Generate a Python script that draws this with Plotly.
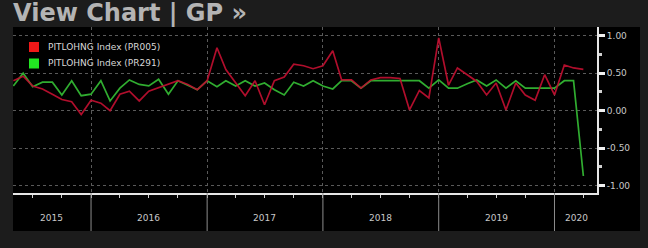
import plotly.graph_objects as go
import pandas as pd

# ---- data (monthly, May 2015 .. Apr 2020) ----
months = pd.date_range("2015-05-01", "2020-04-01", freq="MS").strftime("%Y-%m-%d").tolist()

pr005 = [0.40, 0.46, 0.33, 0.29, 0.22, 0.15, 0.12, -0.05, 0.14, 0.10,
         0.00, 0.22, 0.26, 0.13, 0.26, 0.31, 0.36, 0.40, 0.35, 0.28,
         0.40, 0.84, 0.55, 0.38, 0.20, 0.40, 0.08, 0.40, 0.45, 0.62,
         0.60, 0.56, 0.60, 0.80, 0.41, 0.41, 0.30, 0.41, 0.44, 0.44,
         0.43, 0.01, 0.27, 0.17, 0.97, 0.34, 0.57, 0.48, 0.39, 0.21,
         0.37, 0.01, 0.37, 0.21, 0.14, 0.48, 0.21, 0.61, 0.57, 0.55]

pr291 = [0.33, 0.50, 0.32, 0.38, 0.38, 0.21, 0.40, 0.20, 0.22, 0.40,
         0.13, 0.30, 0.41, 0.35, 0.33, 0.42, 0.22, 0.40, 0.34, 0.28,
         0.40, 0.32, 0.40, 0.33, 0.40, 0.33, 0.37, 0.28, 0.21, 0.38,
         0.33, 0.40, 0.33, 0.29, 0.40, 0.40, 0.30, 0.40, 0.40, 0.40,
         0.40, 0.40, 0.40, 0.30, 0.41, 0.30, 0.30, 0.36, 0.41, 0.33,
         0.41, 0.30, 0.40, 0.30, 0.30, 0.30, 0.30, 0.40, 0.40, -0.87]

series_names = ["PITLOHNG Index (PR005)", "PITLOHNG Index (PR291)"]
line_colors = ["#bf1030", "#30ad30"]
swatch_colors = ["#f01818", "#22e622"]
year_labels = ["2015", "2016", "2017", "2018", "2019", "2020"]
year_label_pos = ["2015-08-30", "2016-07-01", "2017-07-01", "2018-07-02", "2019-07-02", "2020-03-09"]
year_starts = ["2016-01-01", "2017-01-01", "2018-01-01", "2019-01-01", "2020-01-01"]
y_ticks = [-1.0, -0.5, 0.0, 0.5, 1.0]
y_ticktext = ["-1.00", "-0.50", "0.00", "0.50", "1.00"]
title_text = "View Chart | GP \u00bb"

x_range = ["2015-04-30", "2020-05-14"]
y_range = [-1.097, 1.116]

# plot-area geometry in pixels (used to place the hand-made legend / panel)
W, H = 648, 248
ML, MR, MT, MB = 13, 51, 27, 55
PW, PH = W - ML - MR, H - MT - MB


def px_x(px):
    return (px - ML) / PW


def px_y(py):
    return (H - MB - py) / PH


fig = go.Figure()

# lines (green first, red above)
fig.add_trace(go.Scatter(x=months, y=pr291, mode="lines", name=series_names[1],
                         line=dict(color=line_colors[1], width=1.7),
                         showlegend=False, hoverinfo="skip"))
fig.add_trace(go.Scatter(x=months, y=pr005, mode="lines", name=series_names[0],
                         line=dict(color=line_colors[0], width=1.7),
                         opacity=0.92, showlegend=False, hoverinfo="skip"))

shapes = []
# black chart panel (below plot)
shapes.append(dict(type="rect", xref="paper", yref="paper", x0=0, x1=px_x(640),
                   y0=px_y(231), y1=1.0, fillcolor="#000000", line=dict(width=0),
                   layer="below"))
# year separators in label band
for d in year_starts:
    shapes.append(dict(type="line", xref="x", yref="paper", x0=d, x1=d,
                       y0=0, y1=px_y(231), line=dict(color="#8c8c8c", width=1)))

annotations = []
# legend (square swatch + text)
for i, (nm, col) in enumerate(zip(series_names, swatch_colors)):
    cy = 47 + 16.5 * i
    shapes.append(dict(type="rect", xref="paper", yref="paper",
                       x0=px_x(29), x1=px_x(39), y0=px_y(cy + 5), y1=px_y(cy - 5),
                       fillcolor=col, line=dict(width=0)))
    annotations.append(dict(x=px_x(46), y=px_y(cy), xref="paper", yref="paper",
                            text=nm, showarrow=False, xanchor="left", yanchor="middle",
                            font=dict(family="DejaVu Sans", size=9, color="#d8d8d8")))

for lab, pos in zip(year_labels, year_label_pos):
    annotations.append(dict(x=pos, y=px_y(218), xref="x", yref="paper", text=lab,
                            showarrow=False, xanchor="center", yanchor="middle",
                            font=dict(family="DejaVu Sans", size=9, color="#c8c8c8")))
annotations.append(dict(x=px_x(11), y=px_y(13), xref="paper", yref="paper",
                        text="<b>" + title_text + "</b>",
                        showarrow=False, xanchor="left", yanchor="middle",
                        font=dict(family="DejaVu Sans", size=24, color="#b4b4b4")))

fig.update_layout(
    width=W, height=H,
    margin=dict(l=ML, r=MR, t=MT, b=MB),
    paper_bgcolor="#1c1c1c",
    plot_bgcolor="#000000",
    showlegend=False,
    shapes=shapes,
    annotations=annotations,
    xaxis=dict(type="date", range=x_range, tickvals=year_starts,
               showticklabels=False, ticks="", showgrid=True,
               gridcolor="#5a5a5a", griddash="dot", gridwidth=1,
               showline=True, linecolor="#e6e6e6", linewidth=2,
               zeroline=False,
               minor=dict(dtick="M3", tick0="2015-01-01", ticks="outside",
                          ticklen=3, tickcolor="#d0d0d0", tickwidth=1,
                          showgrid=False)),
    yaxis=dict(side="right", range=y_range, tickvals=y_ticks, ticktext=y_ticktext,
               showgrid=True, gridcolor="#5a5a5a", griddash="dot", gridwidth=1,
               zeroline=False, showline=True, linecolor="#e6e6e6", linewidth=2,
               ticks="outside", ticklen=6, tickwidth=3, tickcolor="#f0f0f0",
               tickfont=dict(family="DejaVu Sans", size=9, color="#c8c8c8"),
               minor=dict(dtick=0.25, ticks="outside", ticklen=3,
                          tickcolor="#d0d0d0", showgrid=False)),
)

fig.write_html("out.html", config={"displayModeBar": False},
               post_script="document.body.style.margin='0';document.body.style.padding='0';")
